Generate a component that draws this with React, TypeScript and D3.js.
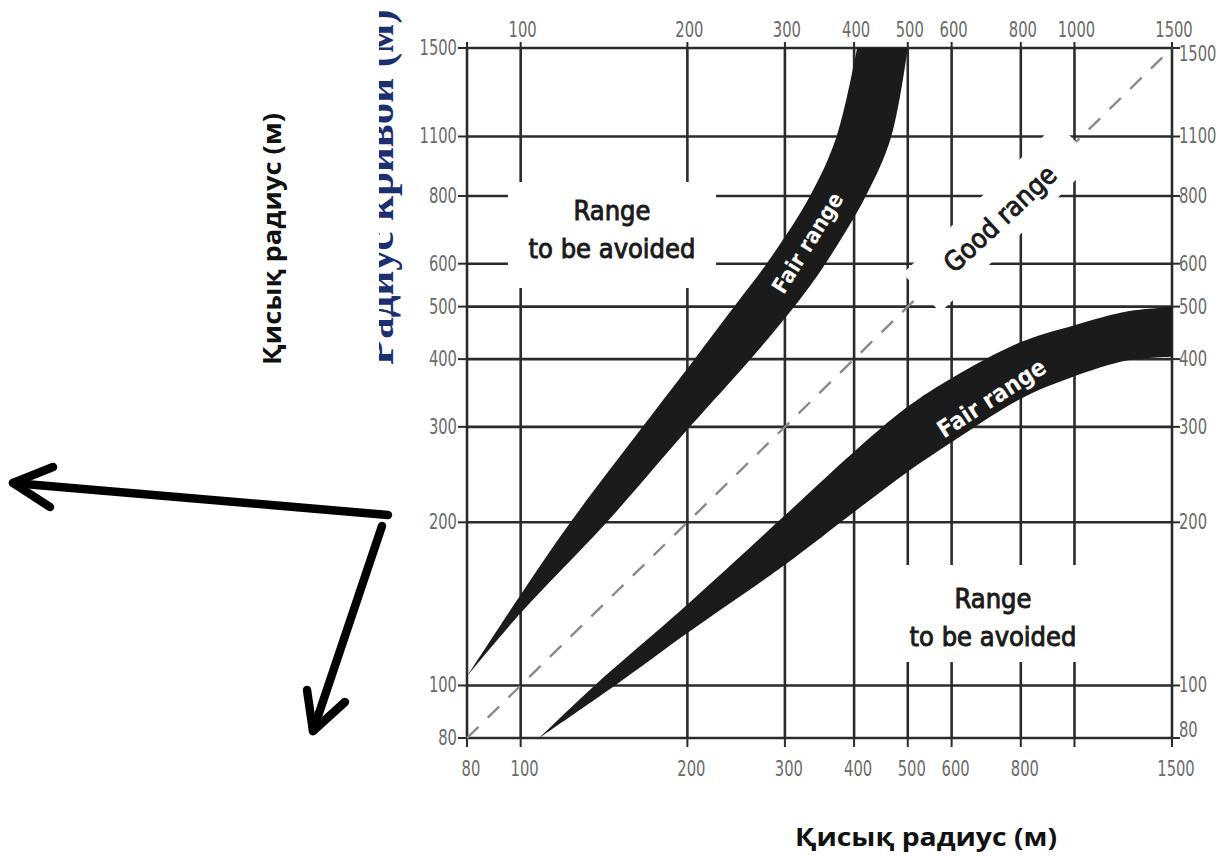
import * as d3 from "d3";

const W = 1225;
const H = 856;

// axis ticks
const xGrid = [80, 100, 200, 300, 400, 500, 600, 800, 1000, 1500];
const xTopLabels = [100, 200, 300, 400, 500, 600, 800, 1000, 1500];
const xBottomLabels = [80, 100, 200, 300, 400, 500, 600, 800, 1500];
const yTickAt = [80, 100, 200, 300, 400, 500, 600, 800, 1030, 1500];
const yTickLabels = ["80", "100", "200", "300", "400", "500", "600", "800", "1100", "1500"];

// fair range bands, [preceding radius, following radius]
const upperBandLeft = [[80, 104], [100, 147], [123, 200], [166, 300], [206, 400], [243, 500], [278, 600], [333, 800], [372, 1030], [405, 1500]];
const upperBandRight = [[80, 104], [100, 136], [143, 200], [202, 300], [260, 400], [312, 500], [355, 600], [420, 800], [467, 1030], [500, 1500]];
const lowerBandTop = [[108, 80], [136, 100], [200, 141], [300, 206], [400, 270], [500, 327], [600, 369], [800, 430], [1000, 462], [1250, 490], [1500, 499]];
const lowerBandBottom = [[108, 80], [148, 100], [200, 125], [300, 167], [400, 209], [500, 248], [600, 281], [800, 338], [1000, 372], [1250, 398], [1500, 404]];

const goodRangeAt = 730;

const tickFont = "'DejaVu Sans Condensed', sans-serif";
const labelFont = "'DejaVu Sans Condensed', 'DejaVu Sans', sans-serif";
const gridColor = "#2b2b2b";
const tickColor = "#6a6a6a";

export default function App() {
  const x = d3.scaleLog().domain([80, 1500]).range([467, 1172]);
  const y = d3.scaleLog().domain([80, 1500]).range([738, 48]);

  const line = d3
    .line<number[]>()
    .x((d) => x(d[0]))
    .y((d) => y(d[1]))
    .curve(d3.curveCatmullRom.alpha(0.5));

  const band = (a: number[][], b: number[][]) =>
    line(a) + (line([...b].reverse()) as string).replace("M", "L") + "Z";

  const diagAngle =
    (Math.atan2(y(1500) - y(80), x(1500) - x(80)) * 180) / Math.PI;
  const gx = x(goodRangeAt);
  const gy = y(goodRangeAt);

  const tick = (key: string, px: number, py: number, label: string | number, anchor: string) => (
    <text key={key} transform={`translate(${px},${py}) scale(0.78,1)`} textAnchor={anchor}>
      {label}
    </text>
  );

  return (
    <svg
      width={W}
      height={H}
      style={{ position: "absolute", left: 0, top: 0, background: "#fff" }}
    >
      <defs>
        <clipPath id="cut">
          <rect x={379} y={0} width={40} height={400} />
        </clipPath>
      </defs>

      {/* grid */}
      <g stroke={gridColor} strokeWidth={2.6}>
        {xGrid.map((v) => (
          <line key={"vx" + v} x1={x(v)} x2={x(v)} y1={y(1500)} y2={y(80)} />
        ))}
        {yTickAt.map((v) => (
          <line key={"hy" + v} x1={x(80)} x2={x(1500)} y1={y(v)} y2={y(v)} />
        ))}
        {yTickAt.map((v) => (
          <line key={"tl" + v} x1={x(80) - 9} x2={x(80)} y1={y(v)} y2={y(v)} strokeWidth={2} />
        ))}
        {yTickAt.map((v) => (
          <line key={"tr" + v} x1={x(1500)} x2={x(1500) + 8} y1={y(v)} y2={y(v)} strokeWidth={2} />
        ))}
        {xGrid.map((v) => (
          <line key={"tb" + v} x1={x(v)} x2={x(v)} y1={y(80)} y2={y(80) + 9} strokeWidth={2} />
        ))}
        {xGrid.map((v) => (
          <line key={"tt" + v} x1={x(v)} x2={x(v)} y1={y(1500) - 6} y2={y(1500)} strokeWidth={2} />
        ))}
      </g>

      {/* equal radii */}
      <line
        x1={x(80)}
        y1={y(80)}
        x2={x(1500)}
        y2={y(1500)}
        stroke="#8a8a8a"
        strokeWidth={2.4}
        strokeDasharray="16 13"
      />

      {/* bands */}
      <path d={band(upperBandLeft, upperBandRight)} fill="#1b1b1b" />
      <path d={band(lowerBandTop, lowerBandBottom)} fill="#1b1b1b" />

      {/* knockouts behind labels */}
      <rect x={508} y={182} width={208} height={106} fill="#fff" />
      <rect x={896} y={565} width={180} height={97} fill="#fff" />
      <rect
        x={-108}
        y={-27}
        width={216}
        height={54}
        fill="#fff"
        transform={`translate(${gx},${gy}) rotate(${diagAngle})`}
      />

      {/* region labels */}
      <g fontFamily={labelFont} fontSize={27} fill="#1a1a1a" stroke="#1a1a1a" strokeWidth={0.9} textAnchor="middle">
        <text x={612} y={220}>Range</text>
        <text x={612} y={258}>to be avoided</text>
        <text x={993} y={608}>Range</text>
        <text x={993} y={646}>to be avoided</text>
        <text transform={`translate(${gx},${gy}) rotate(${diagAngle + 1.5})`} y={11}>Good range</text>
      </g>
      <g fontFamily={labelFont} fontWeight="bold" fill="#fff" textAnchor="middle">
        <text fontSize={22} transform="translate(814,247) rotate(-58)">Fair range</text>
        <text fontSize={24} transform="translate(996,405) rotate(-33)">Fair range</text>
      </g>

      {/* tick labels */}
      <g fontFamily={tickFont} fontSize={21} fill={tickColor}>
        {xTopLabels.map((v) => tick("lt" + v, x(v) + 2, 37, v, "middle"))}
        {xBottomLabels.map((v) => tick("lb" + v, x(v) + 4, 776, v, "middle"))}
        {yTickAt.map((v, i) => tick("ll" + v, x(80) - 10, y(v) + 7, yTickLabels[i], "end"))}
        {yTickAt.map((v, i) =>
          tick("lr" + v, x(1500) + 7, y(v) + 7 + (v === 80 ? -8 : v === 1500 ? 6 : 0), yTickLabels[i], "start")
        )}
      </g>

      {/* cropped original axis title */}
      <g clipPath="url(#cut)">
        <text
          transform="translate(393,365) rotate(-90)"
          fontFamily="'Liberation Serif', serif"
          fontWeight="bold"
          fontSize={43}
          fill="#1d2f6f"
        >
          Радиус кривой (м)
        </text>
      </g>

      {/* axis titles */}
      <g fontFamily="'Open Sans', 'Noto Sans', sans-serif" fontWeight="bold" fontSize={25} fill="#111">
        <text
          transform="translate(281,239) rotate(-90)"
          textAnchor="middle"
          textLength={252}
          lengthAdjust="spacingAndGlyphs"
        >
          Қисық радиус (м)
        </text>
        <text x={926} y={846} textAnchor="middle" textLength={262} lengthAdjust="spacingAndGlyphs">
          Қисық радиус (м)
        </text>
      </g>

      {/* arrows */}
      <g stroke="#000" strokeWidth={8.5} strokeLinecap="round" strokeLinejoin="round" fill="none">
        <path d="M388,515 L13,483" />
        <path d="M53,467 L13,483 L50,507" />
        <path d="M382,526 L313,731" />
        <path d="M307,690 L313,731 L345,702" />
      </g>
    </svg>
  );
}
